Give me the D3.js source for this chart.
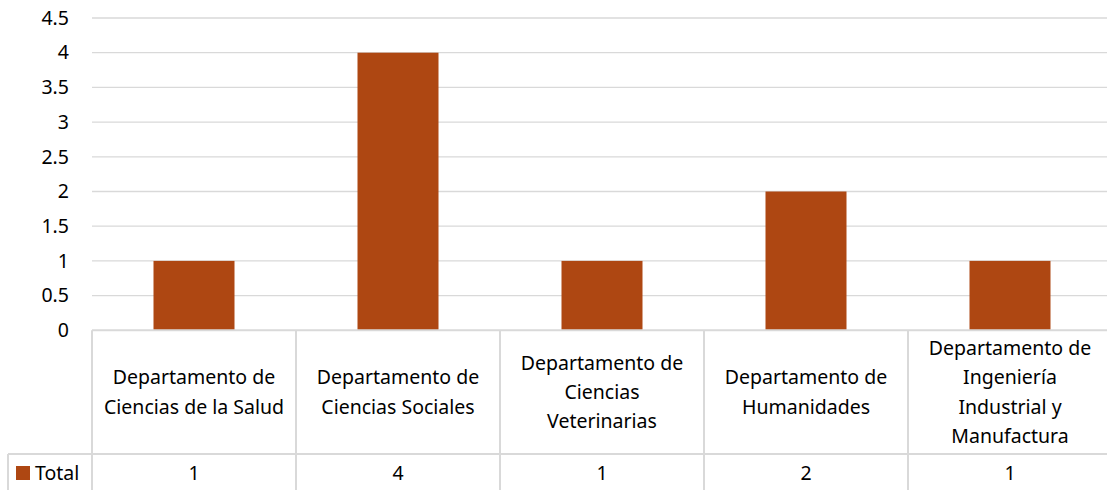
<!DOCTYPE html>
<html>
<head>
<meta charset="utf-8">
<script src="https://d3js.org/d3.v7.min.js"></script>
<style>
body { margin: 0; background: #fff; }
text { font-family: "Noto Sans", sans-serif; fill: #000; }
</style>
</head>
<body>
<script>
var categories = ["Departamento de Ciencias de la Salud", "Departamento de Ciencias Sociales",
  "Departamento de Ciencias Veterinarias", "Departamento de Humanidades",
  "Departamento de Ingeniería Industrial y Manufactura"];
var totals = [1, 4, 1, 2, 1];
var seriesName = "Total";
var yTicks = [0, 0.5, 1, 1.5, 2, 2.5, 3, 3.5, 4, 4.5];

var width = 1107, height = 490;
var plotLeft = 92, plotRight = 1112, plotTop = 18, zero = 330.3, rowTop = 454;
var barColor = "#ae4712", gridColor = "#d9d9d9";
var fs = 19.5;

var svg = d3.select("body").append("svg").attr("width", width).attr("height", height);

var x = d3.scaleBand().domain(categories).range([plotLeft, plotRight]);
var y = d3.scaleLinear().domain([0, 4.5]).range([zero, plotTop]);

// gridlines
svg.append("g").selectAll("line").data(yTicks.filter(function(d){return d > 0;})).enter().append("line")
  .attr("x1", plotLeft).attr("x2", plotRight)
  .attr("y1", function(d){return y(d);}).attr("y2", function(d){return y(d);})
  .attr("stroke", gridColor).attr("stroke-width", 1.3);

// y axis labels
var yaxis = d3.axisLeft(y).tickValues(yTicks).tickSize(0).tickPadding(23)
  .tickFormat(function(d){return d;});
var ya = svg.append("g").attr("transform", "translate(" + plotLeft + ",0)").call(yaxis);
ya.select(".domain").remove();
ya.selectAll("text").style("font-size", fs + "px").style("font-family", "Noto Sans").attr("fill", "#000");

// bars
var bw = 81;
svg.append("g").selectAll("rect").data(totals).enter().append("rect")
  .attr("x", function(d, i){return x(categories[i]) + x.bandwidth()/2 - bw/2;})
  .attr("width", bw)
  .attr("y", function(d){return y(d);})
  .attr("height", function(d){return y(0) - y(d);})
  .attr("fill", barColor);

// data table lines
var g = svg.append("g").attr("stroke", gridColor).attr("stroke-width", 2);
g.append("line").attr("x1", plotLeft).attr("x2", plotRight).attr("y1", zero).attr("y2", zero);
g.append("line").attr("x1", 8).attr("x2", plotRight).attr("y1", rowTop).attr("y2", rowTop);
g.append("line").attr("x1", 8).attr("x2", 8).attr("y1", rowTop).attr("y2", height);
g.selectAll(".v").data(categories).enter().append("line").attr("class", "v")
  .attr("x1", function(d){return x(d);}).attr("x2", function(d){return x(d);})
  .attr("y1", zero).attr("y2", height);

// wrapped category labels
var maxW = 186, lh = 29.3;
categories.forEach(function(c) {
  var t = svg.append("text").attr("text-anchor", "middle").style("font-size", fs + "px");
  var words = c.split(" "), lines = [], cur = "";
  var probe = svg.append("text").style("font-size", fs + "px");
  words.forEach(function(w) {
    var test = cur ? cur + " " + w : w;
    probe.text(test);
    if (probe.node().getComputedTextLength() > maxW && cur) { lines.push(cur); cur = w; }
    else cur = test;
  });
  lines.push(cur);
  probe.remove();
  var cx = x(c) + x.bandwidth()/2, cy = (zero + rowTop)/2;
  lines.forEach(function(l, i) {
    t.append("tspan").attr("x", cx)
      .attr("y", cy + (i - (lines.length - 1)/2) * lh)
      .attr("dy", "0.35em").text(l);
  });
});

// values row
var rowY = (rowTop + height)/2 + 1;
svg.append("g").selectAll("text").data(totals).enter().append("text")
  .attr("x", function(d, i){return x(categories[i]) + x.bandwidth()/2;})
  .attr("y", rowY).attr("dy", "0.35em").attr("text-anchor", "middle")
  .style("font-size", fs + "px").text(function(d){return d;});

// legend key
svg.append("rect").attr("x", 16).attr("y", rowY - 7).attr("width", 14).attr("height", 14).attr("fill", barColor);
svg.append("text").attr("x", 35).attr("y", rowY).attr("dy", "0.35em").style("font-size", fs + "px").text(seriesName);
</script>
</body>
</html>
